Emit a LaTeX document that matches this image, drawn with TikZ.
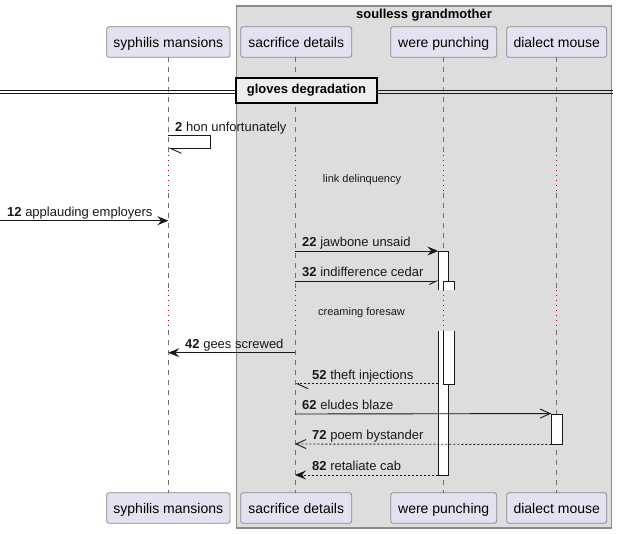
\documentclass[tikz,border=0pt]{standalone}
\usepackage{fontspec}
\setmainfont{Liberation Sans}
\usetikzlibrary{arrows.meta}
\definecolor{partfill}{HTML}{E2E2F0}
\definecolor{partline}{HTML}{8A8A8A}
\definecolor{grpfill}{HTML}{DDDDDD}
\definecolor{grpline}{HTML}{8A8A8A}
\definecolor{delayred}{HTML}{A80036}
\definecolor{lifegray}{HTML}{707070}
\definecolor{divfill}{HTML}{EEEEEE}
\definecolor{ink}{HTML}{181818}
\begin{document}
\begin{tikzpicture}[x=1pt,y=-1pt,
  part/.style={draw=partline, fill=partfill, rounded corners=2.5pt, line width=0.8pt,
    minimum height=30.6pt, inner sep=0pt, text height=12pt, text depth=1pt,
    font=\fontsize{14}{16}\selectfont},
  lifeline/.style={draw=lifegray, line width=0.8pt, dash pattern=on 5pt off 5pt},
  delayline/.style={draw=delayred, line width=0.9pt, dash pattern=on 1pt off 4pt},
  actbox/.style={fill=white},
  actedge/.style={draw=ink, line width=0.9pt},
  msg/.style={draw=ink, line width=0.9pt},
  ret/.style={draw=ink, line width=0.9pt, dash pattern=on 2pt off 2pt},
  filled/.style={-{Stealth[length=11pt,width=9pt,inset=4pt]}},
  openhead/.style={-{Straight Barb[length=10pt,width=9pt]}},
  halfhead/.style={-{Straight Barb[length=11pt,width=10pt,harpoon]}},
  halfheadswap/.style={-{Straight Barb[length=7pt,width=7pt,harpoon,swap]}},
  lbl/.style={anchor=base west, inner sep=0pt, font=\fontsize{13}{15}\selectfont, text=ink},
  delaytxt/.style={inner sep=0pt, anchor=base, font=\fontsize{11}{13}\selectfont, text=ink}
]
\useasboundingbox (0,0) rectangle (618,533);

% group box
\draw[fill=grpfill, draw=grpline, line width=1.2pt] (236.7,6) rectangle (611.7,528);
\node[font=\bfseries\fontsize{13}{15}\selectfont, anchor=base, inner sep=0pt] (grp) at (424,18) {soulless grandmother};

% participants
\node[part, minimum width=123.3pt] (sT) at (168.3,42) {syphilis mansions};
\node[part, minimum width=111pt]   (cT) at (296.2,42) {sacrifice details};
\node[part, minimum width=106pt]   (wT) at (443.7,42) {were punching};
\node[part, minimum width=100pt]   (dT) at (556.7,42) {dialect mouse};
\node[part, minimum width=123.3pt] (sB) at (168.3,508) {syphilis mansions};
\node[part, minimum width=111pt]   (cB) at (296.2,508) {sacrifice details};
\node[part, minimum width=106pt]   (wB) at (443.7,508) {were punching};
\node[part, minimum width=100pt]   (dB) at (556.7,508) {dialect mouse};

% lifelines
\foreach \p/\x in {s/168.3,c/295,w/443.3,d/556.7}{
  \draw[lifeline] (\x,57.3) -- (\x,155);
  \draw[delayline] (\x,155) -- (\x,193);
  \draw[lifeline] (\x,193) -- (\x,290);
  \draw[delayline] (\x,290) -- (\x,330);
  \draw[lifeline] (\x,330) -- (\x,492.7);
}

% divider
\draw[draw=ink, line width=1pt] (0,90) -- (612.7,90);
\draw[draw=ink, line width=1pt] (0,93.7) -- (612.7,93.7);
\node[draw=black, fill=divfill, line width=1.6pt, minimum width=141pt, minimum height=25pt,
  inner sep=0pt, font=\bfseries\fontsize{13}{15}\selectfont] (div) at (306.5,90.5) {gloves degradation};

% activations
\fill[actbox] (438.3,251) rectangle (448.7,290);
\fill[actbox] (438.3,331) rectangle (448.7,475);
\draw[actedge] (438.3,290) -- (438.3,251) -- (448.7,251) -- (448.7,290);
\draw[actedge] (438.3,331) -- (438.3,475) -- (448.7,475) -- (448.7,331);
\fill[actbox] (443.3,281) rectangle (454,290);
\fill[actbox] (443.3,331) rectangle (454,384);
\draw[actedge] (443.3,290) -- (443.3,281) -- (454,281) -- (454,290);
\draw[actedge] (443.3,331) -- (443.3,384) -- (454,384) -- (454,331);
\node[draw=ink, fill=white, line width=0.9pt, minimum width=10.4pt, minimum height=30pt, inner sep=0pt] (dAct) at (556.9,429) {};

% message coordinates
\coordinate (m2a) at (168.3,135);
\coordinate (m2b) at (168.3,148.3);
\coordinate (m12a) at (0,220.7);
\coordinate (m12b) at (168.3,220.7);
\coordinate (m22a) at (295,251);
\coordinate (m22b) at (438.3,251);
\coordinate (m32a) at (295,281);
\coordinate (m32b) at (438.3,281);
\coordinate (m42a) at (295,352.7);
\coordinate (m42b) at (168.3,352.7);
\coordinate (m52a) at (438.3,383.7);
\coordinate (m52b) at (295,383.7);
\coordinate (m62a) at (295,414);
\coordinate (m62b) at (dAct.north west);
\coordinate (m72a) at (dAct.south west);
\coordinate (m72b) at (295,444);
\coordinate (m82a) at (438.3,475);
\coordinate (m82b) at (295,475);

% messages
\draw[msg, halfhead] (m2a) -- (210.7,135) -- (210.7,148.3) -- (m2b);
\node[lbl] (t2) at (175,131) {\textbf{2} hon unfortunately};
\node[delaytxt] (d1) at (362,182) {link delinquency};
\draw[msg, filled] (m12a) -- (m12b);
\node[lbl] (t12) at (7,216) {\textbf{12} applauding employers};
\draw[msg, filled] (m22a) -- (m22b);
\node[lbl] (t22) at (302,246.5) {\textbf{22} jawbone unsaid};
\draw[msg, halfheadswap] (m32a) -- (m32b);
\node[lbl] (t32) at (302,276.5) {\textbf{32} indifference cedar};
\node[delaytxt] (d2) at (361.5,315) {creaming foresaw};
\draw[msg, filled] (m42a) -- (m42b);
\node[lbl] (t42) at (185,348) {\textbf{42} gees screwed};
\draw[ret, halfhead] (m52a) -- (m52b);
\node[lbl] (t52) at (312,379) {\textbf{52} theft injections};
\draw[msg, openhead] (m62a) -- (m62b);
\node[lbl] (t62) at (302,409.5) {\textbf{62} eludes blaze};
\draw[ret, openhead] (m72a) -- (m72b);
\node[lbl] (t72) at (312,439.5) {\textbf{72} poem bystander};
\draw[ret, filled] (m82a) -- (m82b);
\node[lbl] (t82) at (312,470.5) {\textbf{82} retaliate cab};
\end{tikzpicture}
\end{document}
